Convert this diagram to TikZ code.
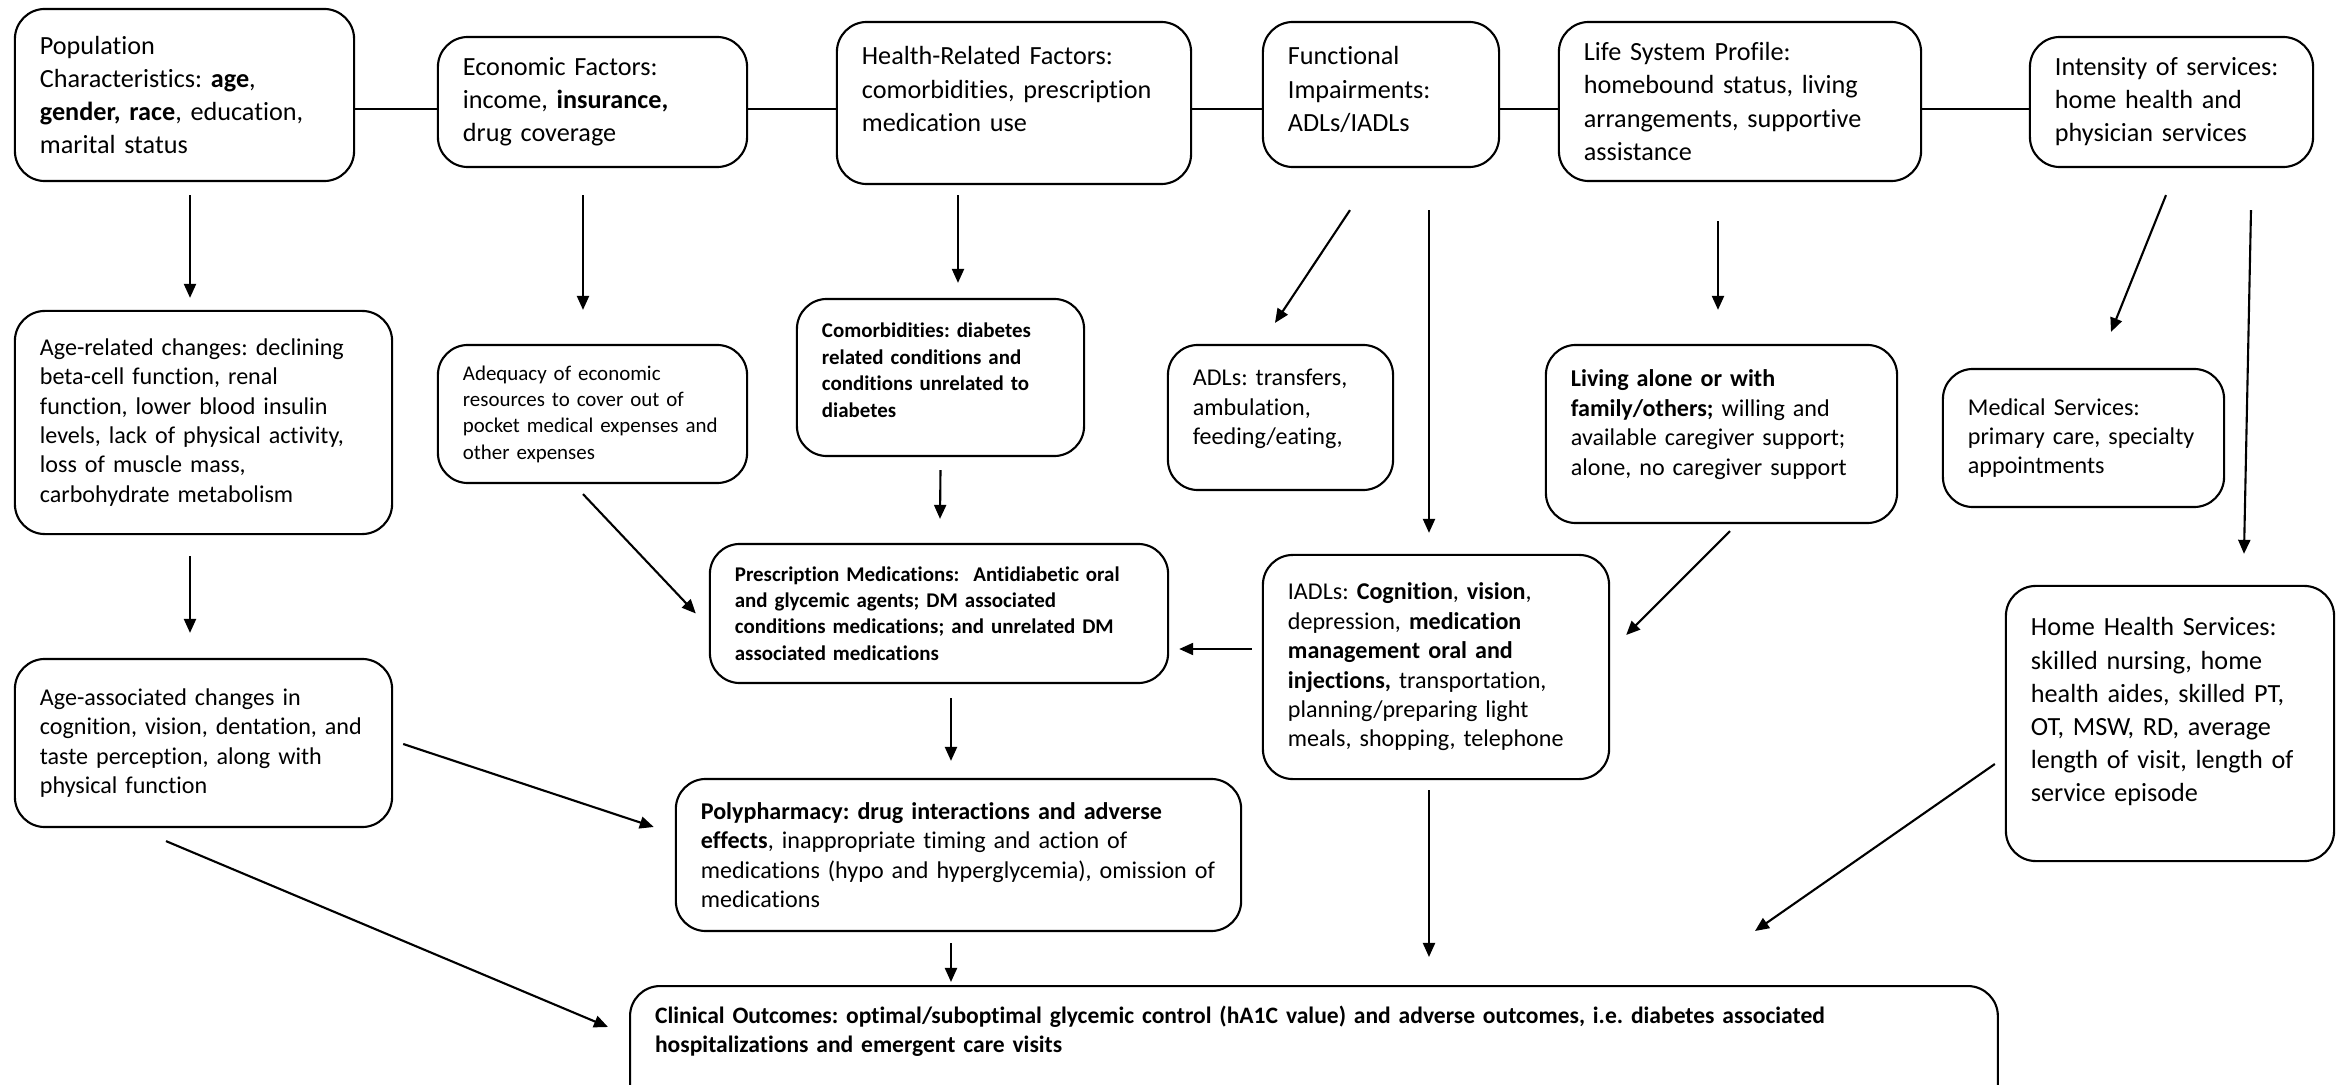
\documentclass[tikz,border=0pt]{standalone}
\usepackage{fontspec}
\setmainfont{Carlito}[Ligatures={NoCommon}]
\usetikzlibrary{arrows.meta,calc}
\frenchspacing

\tikzset{
  box/.style={draw, rounded corners=0.3cm, line width=0.6pt, align=left, inner xsep=0.25cm},
  big/.style={font=\fontsize{7.45}{9.4}\selectfont},
  mid/.style={font=\fontsize{6.85}{8.35}\selectfont},
  small/.style={font=\fontsize{5.95}{7.5}\selectfont},
  smallbold/.style={font=\fontsize{5.95}{7.5}\selectfont\bfseries},
  arr/.style={-{Triangle[length=1.4mm,width=1.2mm]}, line width=0.6pt}
}

\begin{document}
\begin{tikzpicture}[x=0.01cm, y=-0.01cm]
    \useasboundingbox (0,0) rectangle (2344,1085);
    \clip (0,0) rectangle (2344,1085);

    % Top row of factors
    \node[box, big, text width=2.89cm, minimum height=1.72cm] (pop) at (184.5,95)
        {Population\\ Characteristics: \textbf{age},\\ \textbf{gender, race}, education,\\ marital status};
    \node[box, big, text width=2.59cm, minimum height=1.30cm] (econ) at (592.5,102)
        {Economic Factors:\\ income, \textbf{insurance,}\\ drug coverage};
    \node[box, big, text width=3.04cm, minimum height=1.62cm, inner ysep=0pt, text height=0.43cm, text depth=1.19cm] (health) at (1014,103)
        {Health-Related Factors:\\ comorbidities, prescription\\ medication use};
    \node[box, big, text width=1.86cm, minimum height=1.45cm, inner ysep=0pt, text height=0.43cm, text depth=1.02cm] (func) at (1381,94.5)
        {Functional\\ Impairments:\\ ADLs/IADLs};
    \node[box, big, text width=3.12cm, minimum height=1.59cm] (life) at (1740,101.5)
        {Life System Profile:\\ homebound status, living\\ arrangements, supportive\\ assistance};
    \node[box, big, text width=2.33cm, minimum height=1.30cm] (inten) at (2171.5,102)
        {Intensity of services:\\ home health and\\ physician services};

    % Links between the top boxes
    \coordinate (topline) at (0,109);
    \foreach \a/\b in {pop/econ, econ/health, health/func, func/life, life/inten}
        \draw[line width=0.6pt] (\a.east |- topline) -- (\b.west |- topline);

    % Second row
    \node[box, mid, text width=3.27cm, minimum height=2.23cm] (agerel) at (203.5,422.5)
        {Age-related changes: declining\\ beta-cell function, renal\\ function, lower blood insulin\\ levels, lack of physical activity,\\ loss of muscle mass,\\ carbohydrate metabolism};
    \node[box, small, text width=2.59cm, minimum height=1.38cm] (adeq) at (592.5,414)
        {Adequacy of economic\\ resources to cover out of\\ pocket medical expenses and\\ other expenses};
    \node[box, smallbold, text width=2.37cm, minimum height=1.57cm, inner ysep=0pt, text height=0.39cm, text depth=1.18cm] (comorb) at (940.5,377.5)
        {Comorbidities: diabetes\\ related conditions and\\ conditions unrelated to\\ diabetes};
    \node[box, mid, text width=1.75cm, minimum height=1.45cm, inner ysep=0pt, text height=0.41cm, text depth=1.04cm] (adl) at (1280.5,417.5)
        {ADLs: transfers,\\ ambulation,\\ feeding/eating,};
    \node[box, mid, text width=3.01cm, minimum height=1.78cm, inner ysep=0pt, text height=0.42cm, text depth=1.36cm] (liv) at (1721.5,434)
        {\textbf{Living alone or with}\\ \textbf{family/others;} willing and\\ available caregiver support;\\ alone, no caregiver support};
    \node[box, mid, text width=2.31cm, minimum height=1.38cm] (med) at (2083.5,438)
        {Medical Services:\\ primary care, specialty\\ appointments};

    % Third row
    \node[box, smallbold, text width=4.08cm, minimum height=1.39cm] (presc) at (939,613.5)
        {Prescription Medications:\ \ Antidiabetic oral\\ and glycemic agents; DM associated\\ conditions medications; and unrelated DM\\ associated medications};
    \node[box, mid, text width=2.96cm, minimum height=2.24cm] (iadl) at (1436,667)
        {IADLs: \textbf{Cognition}, \textbf{vision},\\ depression, \textbf{medication}\\ \textbf{management oral and}\\ \textbf{injections,} transportation,\\ planning/preparing light\\ meals, shopping, telephone};
    \node[box, big, text width=2.78cm, minimum height=2.75cm, inner ysep=0pt, text height=0.50cm, text depth=2.25cm] (home) at (2170,723.5)
        {Home Health Services:\\ skilled nursing, home\\ health aides, skilled PT,\\ OT, MSW, RD, average\\ length of visit, length of\\ service episode};
    \node[box, mid, text width=3.27cm, minimum height=1.68cm] (ageas) at (203.5,743)
        {Age-associated changes in\\ cognition, vision, dentation, and\\ taste perception, along with\\ physical function};
    \node[box, mid, text width=5.15cm, minimum height=1.52cm] (poly) at (958.5,855)
        {\textbf{Polypharmacy: drug interactions and adverse}\\ \textbf{effects}, inappropriate timing and action of\\ medications (hypo and hyperglycemia), omission of\\ medications};

    % Outcome box, runs off the bottom edge
    \node[box, text width=13.17cm, inner ysep=0.2cm, text depth=0.8cm, anchor=north west,
          font=\fontsize{6.7}{8.35}\selectfont\bfseries] (clin) at (629,985)
        {Clinical Outcomes: optimal/suboptimal glycemic control (hA1C value) and adverse outcomes, i.e. diabetes associated\\ hospitalizations and emergent care visits};

    % Arrows
    \draw[arr] ($(pop.south)+(5.5,13)$) -- ($(agerel.north)+(-13.5,-12)$);
    \draw[arr] ($(econ.south)+(-9.5,27)$) -- ($(adeq.north)+(-9.5,-34)$);
    \draw[arr] ($(health.south)+(-56,10)$) -- ($(comorb.north)+(17.5,-15)$);
    \draw[arr] ($(func.south)+(-31,42)$) -- ($(adl.north)+(-5.5,-21)$);
    \draw[arr] ($(func.south)+(48,42)$) -- ($(iadl.north)+(-7,-21)$);
    \draw[arr] ($(life.south)+(-22,39)$) -- ($(liv.north)+(-3.5,-34)$);
    \draw[arr] ($(inten.south)+(-5.5,27)$) -- ($(med.north)+(27.5,-36)$);
    \draw[arr] ($(inten.south)+(79.5,42)$) -- ($(home.north)+(74,-31)$);
    \draw[arr] ($(agerel.south)+(-13.5,21)$) -- ($(ageas.north)+(-13.5,-25)$);
    \draw[arr] ($(adeq.south)+(-9.5,10)$) -- ($(presc.west)+(-13,0)$);
    \draw[arr] ($(comorb.south)+(0,13)$) -- ($(presc.north)+(1,-24)$);
    \draw[arr] ($(iadl.west)+(-10,-18)$) -- ($(presc.east)+(10,35.5)$);
    \draw[arr] ($(liv.south)+(8.5,7)$) -- ($(iadl.east)+(16,-32)$);
    \draw[arr] ($(presc.south)+(12,14)$) -- ($(poly.north)+(-7.5,-17)$);
    \draw[arr] ($(ageas.east)+(10,1)$) -- ($(poly.west)+(-21,-28)$);
    \draw[arr] ($(ageas.south)+(-37.5,13)$) -- ($(clin.north west)+(-21,42)$);
    \draw[arr] ($(poly.south)+(-7.5,11)$) -- ($(clin.north west)+(322,-3)$);
    \draw[arr] ($(iadl.south)+(-7,10)$) -- ($(clin.north west)+(800,-28)$);
    \draw[arr] ($(home.west)+(-10,40.5)$) -- ($(clin.north west)+(1126,-54)$);
\end{tikzpicture}
\end{document}
